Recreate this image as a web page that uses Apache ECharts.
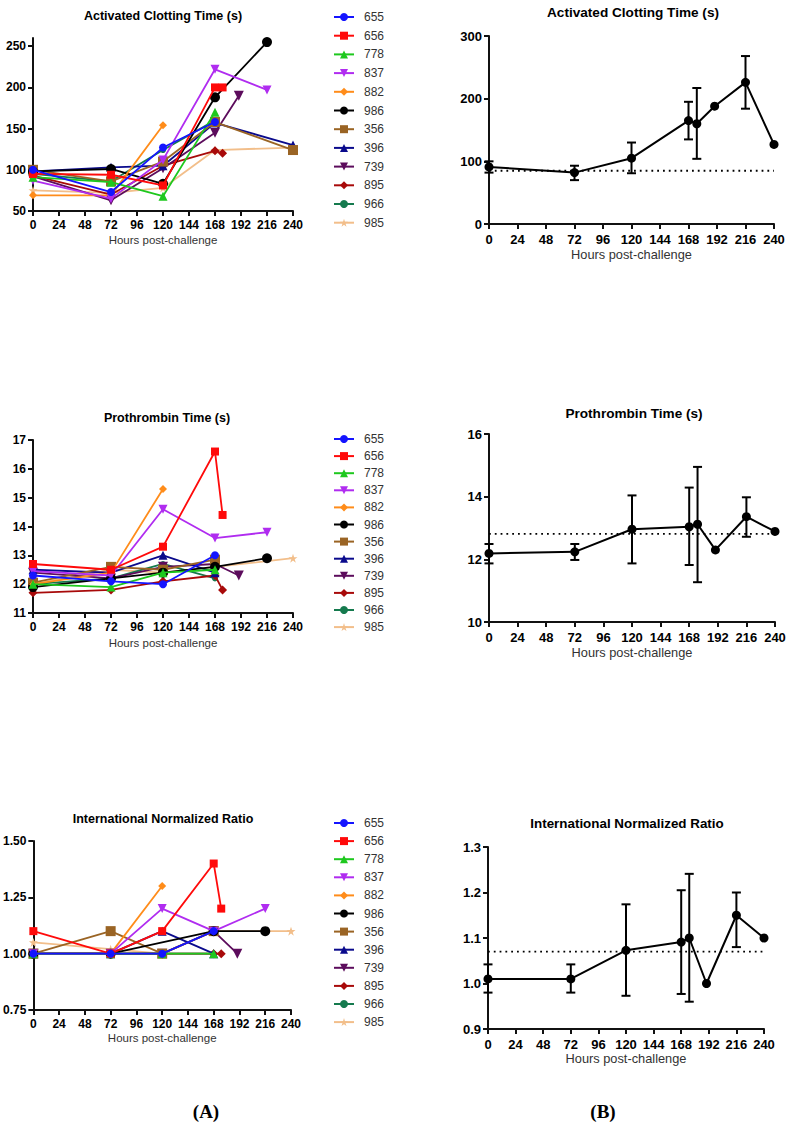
<!DOCTYPE html>
<html><head><meta charset="utf-8">
<script src="https://cdn.jsdelivr.net/npm/echarts@6/dist/echarts.min.js"></script>
<style>html,body{margin:0;padding:0;background:#fff}#c{width:793px;height:1134px}</style>
</head><body><div id="c"></div>
<script>
// ---------- DATA ----------
const hours = [0, 72, 120, 168, 175, 190, 216, 240];
const xTicks = [0, 24, 48, 72, 96, 120, 144, 168, 192, 216, 240];
const animals = ['655','656','778','837','882','986','356','396','739','895','966','985'];

// individual animals (rows follow `animals`, columns follow `hours`)
const actValues = [
  [100, 73, 127, 158, null, null, null, null],
  [95, 94, 81, 200, 200, null, null, null],
  [91, 85, 68, 170, null, null, null, null],
  [87, 65, 112, 222, null, null, 197, null],
  [69, 69, 154, null, null, null, null, null],
  [98, 101, 83, 188, null, null, 255, null],
  [100, 86, 110, 158, null, null, null, 124],
  [98, 103, 105, 157, null, null, null, 130],
  [92, 63, 102, 145, null, 190, null, null],
  [93, 70, 105, 123, 120, null, null, null],
  [95, 86, 124, 160, null, null, null, null],
  [75, 72, 78, 124, null, null, null, 127]
];
const ptValues = [
  [12.3, 12.1, 12.0, 13.0, null, null, null, null],
  [12.7, 12.5, 13.3, 16.6, 14.4, null, null, null],
  [12.0, 11.9, 12.4, 12.5, null, null, null, null],
  [12.45, 12.3, 14.6, 13.6, null, null, 13.8, null],
  [12.0, 12.4, 15.3, null, null, null, null, null],
  [11.9, 12.2, 12.4, 12.6, null, null, 12.9, null],
  [12.05, 12.6, 12.5, 12.85, null, null, null, null],
  [12.5, 12.4, 13.0, 12.4, null, null, null, null],
  [12.4, 12.2, 12.6, 12.7, null, 12.3, null, null],
  [11.7, 11.8, 12.1, 12.3, 11.8, null, null, null],
  [12.0, 12.2, 12.7, 12.2, null, null, null, null],
  [12.0, 12.5, 12.4, 12.6, null, null, null, 12.9]
];
const inrValues = [
  [1.0, 1.0, 1.0, 1.1, null, null, null, null],
  [1.1, 1.0, 1.1, 1.4, 1.2, null, null, null],
  [1.0, 1.0, 1.0, 1.0, null, null, null, null],
  [1.0, 1.0, 1.2, 1.1, null, null, 1.2, null],
  [1.0, 1.0, 1.3, null, null, null, null, null],
  [1.0, 1.0, null, 1.1, null, null, 1.1, null],
  [1.0, 1.1, 1.0, 1.1, null, null, null, null],
  [1.0, 1.0, 1.1, 1.0, null, null, null, null],
  [1.0, 1.0, 1.0, 1.1, null, 1.0, null, null],
  [1.0, 1.0, 1.0, 1.0, 1.0, null, null, null],
  [1.0, 1.0, 1.0, 1.0, null, null, null, null],
  [1.05, 1.02, 1.0, 1.1, null, null, null, 1.1]
];

// group means with error bars
const actMean  = [91, 82, 105, 165, 160, 188, 226, 127];
const actLow   = [82, 70, 81, 135, 104, null, 184, null];
const actHigh  = [100, 93, 130, 195, 217, null, 268, null];
const actRef   = 85;
const ptMean   = [12.19, 12.24, 12.96, 13.04, 13.12, 12.30, 13.36, 12.89];
const ptLow    = [11.87, 11.98, 11.87, 11.82, 11.27, null, 12.72, null];
const ptHigh   = [12.49, 12.49, 14.04, 14.29, 14.95, null, 13.98, null];
const ptRef    = 12.81;
const inrMean  = [1.01, 1.01, 1.073, 1.091, 1.10, 1.0, 1.15, 1.10];
const inrLow   = [0.98, 0.98, 0.973, 0.977, 0.96, null, 1.08, null];
const inrHigh  = [1.042, 1.042, 1.174, 1.205, 1.241, null, 1.20, null];
const inrRef   = 1.07;

const actTicks = [50, 100, 150, 200, 250];

// ---------- STYLE ----------
const FF = '"Liberation Sans", Arial, sans-serif';
const colors = ['#1414ff','#ff0a0a','#1ec81e','#b02cf0','#ff8c1a','#000000','#9a6424','#0a0a8c','#5c0c5c','#a80a0a','#157a4e','#f2be8a'];
const DOWN = 'path://M0,0L10,0L5,9Z';
const STAR = 'path://M5,0L6.2,3.6L10,3.6L6.9,5.8L8.1,9.5L5,7.2L1.9,9.5L3.1,5.8L0,3.6L3.8,3.6Z';
const symbols = ['circle','rect','triangle',DOWN,'diamond','circle','rect','triangle',DOWN,'diamond','circle',STAR];
const sizes = [8, 8, 9, 9, 8, 10, 10, 9, 10, 9, 6, 9];

const leftGrids = [
  {left: 33, top: 38, width: 260, height: 173},
  {left: 33, top: 440, width: 260, height: 173},
  {left: 33, top: 841, width: 258, height: 169}
];
const rightGrids = [
  {left: 489, top: 36, width: 285, height: 188},
  {left: 489, top: 434, width: 286, height: 188},
  {left: 488, top: 847, width: 276, height: 182}
];

function xAx(gi, fs, nameFs, nameGap, margin) {
  return {
    type: 'value', gridIndex: gi, min: 0, max: 240, interval: 24,
    axisLine: {show: true, onZero: false, lineStyle: {color: '#111', width: 2}},
    axisTick: {show: true, length: 5, lineStyle: {color: '#111', width: 2}},
    axisLabel: {fontWeight: 'bold', fontSize: fs, color: '#000', fontFamily: FF, margin: margin, hideOverlap: false},
    splitLine: {show: false},
    name: 'Hours post-challenge', nameLocation: 'middle', nameGap: nameGap,
    nameTextStyle: {fontSize: nameFs, color: '#333', fontFamily: FF}
  };
}
function yAx(gi, min, max, interval, fs, dec, custom) {
  const ax = {
    type: 'value', gridIndex: gi, min: min, max: max, interval: interval,
    axisLine: {show: true, onZero: false, lineStyle: {color: '#111', width: 2}},
    axisTick: {show: true, length: 5, lineStyle: {color: '#111', width: 2}},
    axisLabel: {fontWeight: 'bold', fontSize: fs, color: '#000', fontFamily: FF, margin: 7,
      formatter: v => dec == null ? String(Math.round(v)) : Number(v).toFixed(dec)},
    splitLine: {show: false}
  };
  if (custom) {
    ax.axisLabel.customValues = custom;
    ax.axisTick.customValues = custom;
  }
  return ax;
}

const xAxes = [
  xAx(0, 12, 11.5, 23, 8), xAx(1, 12, 11.5, 24, 8), xAx(2, 12, 11.5, 22, 8),
  xAx(3, 13, 12.8, 24, 9), xAx(4, 13, 12.8, 24, 9), xAx(5, 13, 12.8, 23, 9)
];
const yAxes = [
  yAx(0, 50, 260, 50, 12, null, actTicks),
  yAx(1, 11, 17, 1, 12, null),
  yAx(2, 0.75, 1.5, 0.25, 12, 2),
  yAx(3, 0, 300, 100, 13, null),
  yAx(4, 10, 16, 2, 13, null),
  yAx(5, 0.9, 1.3, 0.1, 13, 1)
];

const series = [];
const leftSets = [actValues, ptValues, inrValues];
leftSets.forEach((vals, k) => {
  for (let i = animals.length - 1; i >= 0; i--) {
    const data = hours.map((h, j) => [h, vals[i][j]]).filter(d => d[1] != null);
    series.push({
      type: 'line', name: animals[i], xAxisIndex: k, yAxisIndex: k, data: data,
      symbol: symbols[i], symbolSize: sizes[i], showAllSymbol: true,
      lineStyle: {color: colors[i], width: 1.8},
      itemStyle: {color: colors[i], opacity: 1},
      emphasis: {disabled: true}, z: 2 + (animals.length - i) * 0.01
    });
  }
});

function errRender(params, api) {
  const x = api.value(0), lo = api.value(1), hi = api.value(2);
  const a = api.coord([x, hi]), b = api.coord([x, lo]);
  const w = 4.5;
  const st = {stroke: '#000', lineWidth: 2};
  return {type: 'group', children: [
    {type: 'line', shape: {x1: a[0], y1: a[1], x2: b[0], y2: b[1]}, style: st},
    {type: 'line', shape: {x1: a[0] - w, y1: a[1], x2: a[0] + w, y2: a[1]}, style: st},
    {type: 'line', shape: {x1: b[0] - w, y1: b[1], x2: b[0] + w, y2: b[1]}, style: st}
  ]};
}

const meanSets = [
  [actMean, actLow, actHigh, actRef],
  [ptMean, ptLow, ptHigh, ptRef],
  [inrMean, inrLow, inrHigh, inrRef]
];
meanSets.forEach((m, k) => {
  const ai = k + 3;
  series.push({
    type: 'line', name: 'ref' + k, xAxisIndex: ai, yAxisIndex: ai,
    data: [[0, m[3]], [240, m[3]]], symbol: 'none',
    lineStyle: {color: '#000', width: 1.8, type: [1.8, 4]}, silent: true, z: 1
  });
  series.push({
    type: 'custom', name: 'err' + k, xAxisIndex: ai, yAxisIndex: ai,
    data: hours.map((h, j) => [h, m[1][j], m[2][j]]).filter(d => d[1] != null),
    encode: {x: 0, y: [1, 2]}, renderItem: errRender, silent: true, z: 3
  });
  series.push({
    type: 'line', name: 'mean' + k, xAxisIndex: ai, yAxisIndex: ai,
    data: hours.map((h, j) => [h, m[0][j]]),
    symbol: 'circle', symbolSize: 9, showAllSymbol: true,
    lineStyle: {color: '#000', width: 2}, itemStyle: {color: '#000'}, z: 4
  });
});

const legendTops = [6, 428, 812];
const legendGaps = [6.7, 5.1, 6.1];
const legends = legendTops.map((t, k) => ({
  data: animals, orient: 'vertical', left: 328, top: t,
  itemWidth: 20, itemHeight: 10, itemGap: legendGaps[k],
  selectedMode: false,
  textStyle: {fontSize: 12, color: '#333', fontFamily: FF, padding: [0, 0, 0, 5]}
}));

function txt(x, y, s, font) {
  return {type: 'text', x: x, y: y, silent: true,
    style: {text: s, font: font, fill: '#000', align: 'center', verticalAlign: 'middle',
            textAlign: 'center', textVerticalAlign: 'middle'}};
}
const graphics = [
  txt(163, 16, 'Activated Clotting Time (s)', 'bold 12.5px ' + FF),
  txt(633, 12, 'Activated Clotting Time (s)', 'bold 13.6px ' + FF),
  txt(167, 418, 'Prothrombin Time (s)', 'bold 12.5px ' + FF),
  txt(634, 413, 'Prothrombin Time (s)', 'bold 13.6px ' + FF),
  txt(163, 819, 'International Normalized Ratio', 'bold 12.5px ' + FF),
  txt(627, 823, 'International Normalized Ratio', 'bold 13.4px ' + FF),
  txt(206, 1111, '(A)', 'bold 19px "Liberation Serif", "Times New Roman", serif'),
  txt(603, 1111, '(B)', 'bold 19px "Liberation Serif", "Times New Roman", serif')
];

const chart = echarts.init(document.getElementById('c'), null, {renderer: 'svg'});
chart.setOption({
  backgroundColor: '#fff',
  animation: false,
  grid: leftGrids.concat(rightGrids),
  xAxis: xAxes,
  yAxis: yAxes,
  legend: legends,
  series: series,
  graphic: graphics
});
</script>
</body></html>
